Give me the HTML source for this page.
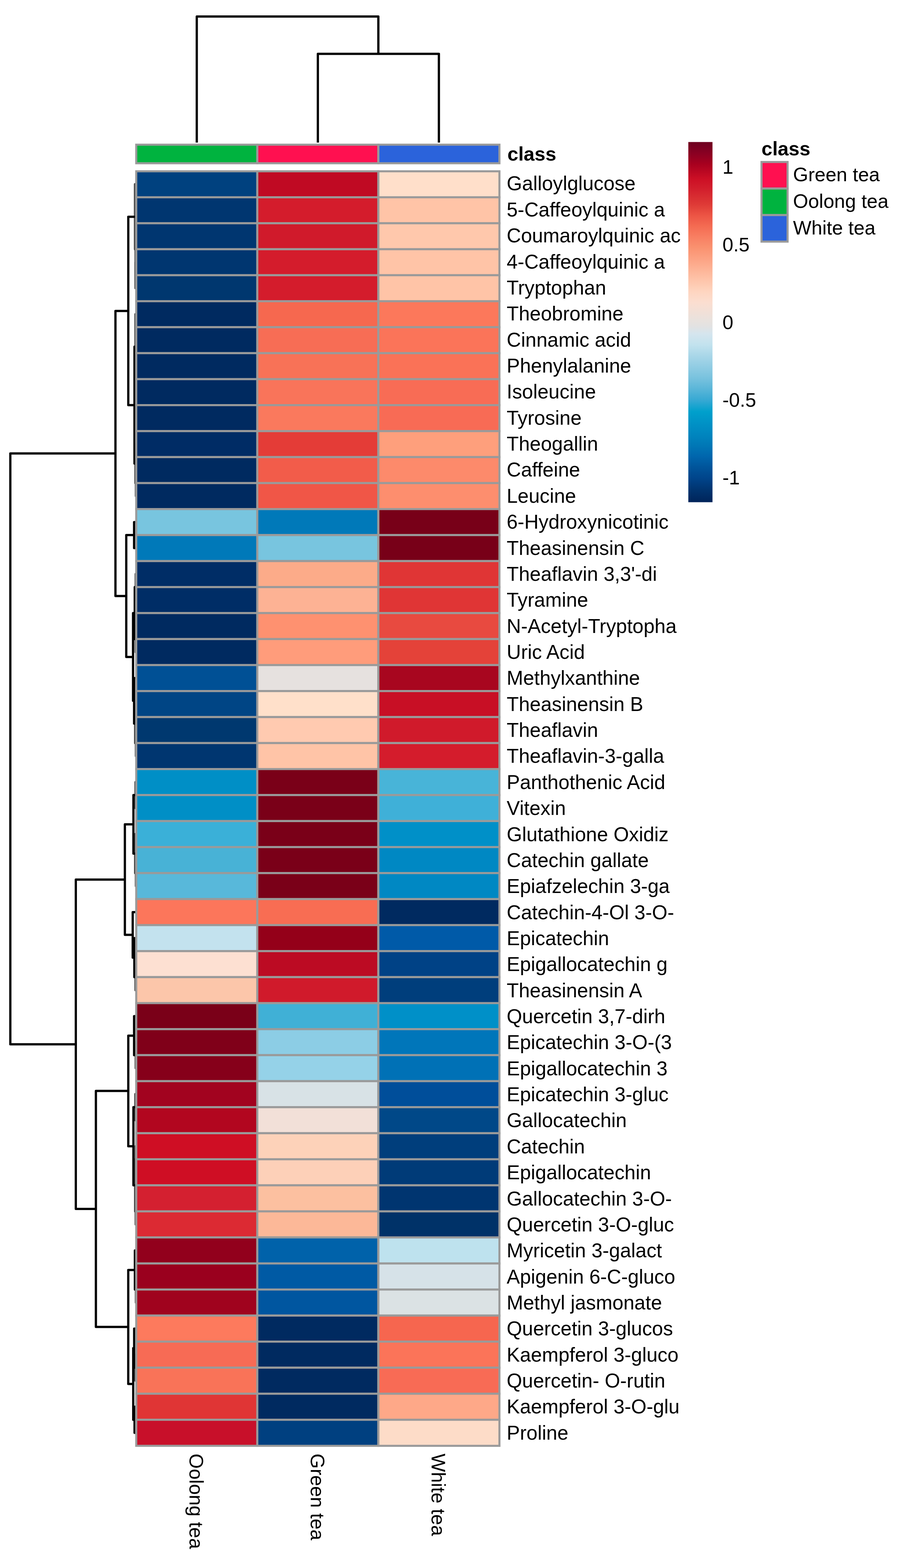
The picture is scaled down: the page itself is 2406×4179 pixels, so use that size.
<!DOCTYPE html><html><head><meta charset="utf-8"><title>Heatmap</title><style>html,body{margin:0;padding:0;background:#fff;}svg{display:block}text{font-family:"Liberation Sans",Arial,sans-serif;fill:#000}</style></head><body>
<svg width="2406" height="4179" viewBox="0 0 2406 4179">
<rect x="0" y="0" width="2406" height="4179" fill="#fff"/>
<path d="M524.3,380.0 V44.0 H1008.1 V143.5 M846.9,380.0 V143.5 H1169.4 V380.0" fill="none" stroke="#000" stroke-width="6" stroke-linejoin="round" stroke-linecap="butt"/>
<defs><clipPath id="rdc"><rect x="0" y="400" width="360.6" height="3500"/></clipPath></defs>
<g clip-path="url(#rdc)">
<path d="M363.0,491.1 H359.6 V664.2 H361.2 M362.5,595.0 H361.2 V733.5 H361.0 M363.0,560.4 H362.5 V629.6 H363.0 M363.0,698.9 H361.0 V768.1 H363.0 M363.0,837.4 H360.8 V1010.5 H362.0 M362.5,941.2 H362.0 V1079.8 H362.5 M363.0,906.6 H362.5 V975.9 H363.0 M363.0,1045.1 H362.5 V1114.4 H363.0 M363.0,1183.6 H360.8 V1287.5 H362.0 M363.0,1252.9 H362.0 V1322.1 H363.0 M363.0,1530.0 H361.5 V1599.3 H363.0 M363.0,1668.6 H361.5 V1737.9 H363.0 M363.0,1876.5 H360.0 V1980.4 H362.0 M363.0,1945.8 H362.0 V2015.1 H363.0 M363.0,2084.4 H361.0 V2153.7 H363.0 M363.0,2223.0 H360.0 V2326.9 H362.0 M363.0,2292.3 H362.0 V2361.6 H363.0 M363.0,2569.6 H361.0 V2638.9 H363.0 M363.0,2777.5 H361.5 V2846.8 H363.0 M363.0,2916.1 H360.5 V2985.5 H363.0 M361.5,3089.7 H360.0 V3228.5 H361.5 M363.0,3054.9 H361.5 V3124.4 H363.0 M363.0,3193.8 H361.5 V3263.2 H363.0 M363.0,3402.1 H362.0 V3471.5 H363.0 M363.0,3610.4 H361.0 V3679.8 H363.0" fill="none" stroke="#4a4a4a" stroke-width="6" stroke-linejoin="round" stroke-linecap="butt"/>
<path d="M307.6,1208.6 H27.5 V2783.2 H202.0 M341.8,828.7 H307.6 V1588.5 H336.4 M359.6,577.7 H341.8 V1079.8 H358.3 M360.8,923.9 H358.3 V1235.6 H360.8 M357.3,1426.1 H336.4 V1750.9 H354.5 M363.0,1391.4 H357.3 V1460.7 H363.0 M359.0,1634.0 H354.5 V1867.8 H357.3 M361.5,1564.7 H359.0 V1703.2 H361.5 M363.0,1807.2 H357.3 V1928.4 H360.0 M332.7,2344.3 H202.0 V3222.1 H255.5 M355.5,2197.0 H332.7 V2491.6 H353.6 M361.0,2119.0 H355.5 V2275.0 H360.0 M363.0,2430.9 H353.6 V2552.2 H358.0 M363.0,2500.2 H358.0 V2604.2 H361.0 M341.8,2907.6 H255.5 V3536.6 H341.7 M357.3,2760.2 H341.8 V3055.0 H355.5 M363.0,2708.2 H357.3 V2812.2 H361.5 M360.5,2950.8 H355.5 V3159.1 H360.0 M359.4,3384.7 H341.7 V3688.5 H355.0 M363.0,3332.7 H359.4 V3436.8 H362.0 M357.5,3593.0 H355.0 V3784.0 H358.5 M363.0,3541.0 H357.5 V3645.1 H361.0 M363.0,3749.3 H358.5 V3818.7 H363.0" fill="none" stroke="#000" stroke-width="6" stroke-linejoin="round" stroke-linecap="butt"/>
</g>
<rect x="363.00" y="385.6" width="322.57" height="49.50" fill="#00b33f" stroke="#9a9a9a" stroke-width="5.5"/>
<rect x="685.57" y="385.6" width="322.57" height="49.50" fill="#ff1050" stroke="#9a9a9a" stroke-width="5.5"/>
<rect x="1008.13" y="385.6" width="322.57" height="49.50" fill="#2b63db" stroke="#9a9a9a" stroke-width="5.5"/>
<text x="1352" y="428" font-size="52" font-weight="bold">class</text>
<rect x="363.00" y="456.50" width="322.57" height="69.25" fill="#00417f" stroke="#9a9a9a" stroke-width="5.5"/>
<rect x="685.57" y="456.50" width="322.57" height="69.25" fill="#c00a23" stroke="#9a9a9a" stroke-width="5.5"/>
<rect x="1008.13" y="456.50" width="322.57" height="69.25" fill="#ffdfca" stroke="#9a9a9a" stroke-width="5.5"/>
<rect x="363.00" y="525.75" width="322.57" height="69.25" fill="#003670" stroke="#9a9a9a" stroke-width="5.5"/>
<rect x="685.57" y="525.75" width="322.57" height="69.25" fill="#d41c2c" stroke="#9a9a9a" stroke-width="5.5"/>
<rect x="1008.13" y="525.75" width="322.57" height="69.25" fill="#ffc4a7" stroke="#9a9a9a" stroke-width="5.5"/>
<rect x="363.00" y="595.00" width="322.57" height="69.25" fill="#003670" stroke="#9a9a9a" stroke-width="5.5"/>
<rect x="685.57" y="595.00" width="322.57" height="69.25" fill="#d01a2b" stroke="#9a9a9a" stroke-width="5.5"/>
<rect x="1008.13" y="595.00" width="322.57" height="69.25" fill="#ffc8ac" stroke="#9a9a9a" stroke-width="5.5"/>
<rect x="363.00" y="664.25" width="322.57" height="69.25" fill="#003670" stroke="#9a9a9a" stroke-width="5.5"/>
<rect x="685.57" y="664.25" width="322.57" height="69.25" fill="#d41c2c" stroke="#9a9a9a" stroke-width="5.5"/>
<rect x="1008.13" y="664.25" width="322.57" height="69.25" fill="#ffc4a7" stroke="#9a9a9a" stroke-width="5.5"/>
<rect x="363.00" y="733.50" width="322.57" height="69.25" fill="#00376f" stroke="#9a9a9a" stroke-width="5.5"/>
<rect x="685.57" y="733.50" width="322.57" height="69.25" fill="#d41c2c" stroke="#9a9a9a" stroke-width="5.5"/>
<rect x="1008.13" y="733.50" width="322.57" height="69.25" fill="#ffc4a7" stroke="#9a9a9a" stroke-width="5.5"/>
<rect x="363.00" y="802.75" width="322.57" height="69.25" fill="#002a60" stroke="#9a9a9a" stroke-width="5.5"/>
<rect x="685.57" y="802.75" width="322.57" height="69.25" fill="#f6684f" stroke="#9a9a9a" stroke-width="5.5"/>
<rect x="1008.13" y="802.75" width="322.57" height="69.25" fill="#fc785b" stroke="#9a9a9a" stroke-width="5.5"/>
<rect x="363.00" y="872.00" width="322.57" height="69.25" fill="#002a60" stroke="#9a9a9a" stroke-width="5.5"/>
<rect x="685.57" y="872.00" width="322.57" height="69.25" fill="#f76d55" stroke="#9a9a9a" stroke-width="5.5"/>
<rect x="1008.13" y="872.00" width="322.57" height="69.25" fill="#fb7459" stroke="#9a9a9a" stroke-width="5.5"/>
<rect x="363.00" y="941.25" width="322.57" height="69.25" fill="#002a60" stroke="#9a9a9a" stroke-width="5.5"/>
<rect x="685.57" y="941.25" width="322.57" height="69.25" fill="#f87257" stroke="#9a9a9a" stroke-width="5.5"/>
<rect x="1008.13" y="941.25" width="322.57" height="69.25" fill="#fa7257" stroke="#9a9a9a" stroke-width="5.5"/>
<rect x="363.00" y="1010.50" width="322.57" height="69.25" fill="#002a60" stroke="#9a9a9a" stroke-width="5.5"/>
<rect x="685.57" y="1010.50" width="322.57" height="69.25" fill="#f9745a" stroke="#9a9a9a" stroke-width="5.5"/>
<rect x="1008.13" y="1010.50" width="322.57" height="69.25" fill="#f86c55" stroke="#9a9a9a" stroke-width="5.5"/>
<rect x="363.00" y="1079.75" width="322.57" height="69.25" fill="#002a60" stroke="#9a9a9a" stroke-width="5.5"/>
<rect x="685.57" y="1079.75" width="322.57" height="69.25" fill="#fa795d" stroke="#9a9a9a" stroke-width="5.5"/>
<rect x="1008.13" y="1079.75" width="322.57" height="69.25" fill="#f86b55" stroke="#9a9a9a" stroke-width="5.5"/>
<rect x="363.00" y="1149.00" width="322.57" height="69.25" fill="#002c65" stroke="#9a9a9a" stroke-width="5.5"/>
<rect x="685.57" y="1149.00" width="322.57" height="69.25" fill="#e43c37" stroke="#9a9a9a" stroke-width="5.5"/>
<rect x="1008.13" y="1149.00" width="322.57" height="69.25" fill="#fe9f7c" stroke="#9a9a9a" stroke-width="5.5"/>
<rect x="363.00" y="1218.25" width="322.57" height="69.25" fill="#002a60" stroke="#9a9a9a" stroke-width="5.5"/>
<rect x="685.57" y="1218.25" width="322.57" height="69.25" fill="#f25c4a" stroke="#9a9a9a" stroke-width="5.5"/>
<rect x="1008.13" y="1218.25" width="322.57" height="69.25" fill="#fd8a6b" stroke="#9a9a9a" stroke-width="5.5"/>
<rect x="363.00" y="1287.50" width="322.57" height="69.29" fill="#002a60" stroke="#9a9a9a" stroke-width="5.5"/>
<rect x="685.57" y="1287.50" width="322.57" height="69.29" fill="#f05647" stroke="#9a9a9a" stroke-width="5.5"/>
<rect x="1008.13" y="1287.50" width="322.57" height="69.29" fill="#fd8e6e" stroke="#9a9a9a" stroke-width="5.5"/>
<rect x="363.00" y="1356.79" width="322.57" height="69.29" fill="#78c5df" stroke="#9a9a9a" stroke-width="5.5"/>
<rect x="685.57" y="1356.79" width="322.57" height="69.29" fill="#0079b9" stroke="#9a9a9a" stroke-width="5.5"/>
<rect x="1008.13" y="1356.79" width="322.57" height="69.29" fill="#780018" stroke="#9a9a9a" stroke-width="5.5"/>
<rect x="363.00" y="1426.08" width="322.57" height="69.29" fill="#0079b9" stroke="#9a9a9a" stroke-width="5.5"/>
<rect x="685.57" y="1426.08" width="322.57" height="69.29" fill="#78c5df" stroke="#9a9a9a" stroke-width="5.5"/>
<rect x="1008.13" y="1426.08" width="322.57" height="69.29" fill="#780018" stroke="#9a9a9a" stroke-width="5.5"/>
<rect x="363.00" y="1495.38" width="322.57" height="69.29" fill="#002d66" stroke="#9a9a9a" stroke-width="5.5"/>
<rect x="685.57" y="1495.38" width="322.57" height="69.29" fill="#fcab89" stroke="#9a9a9a" stroke-width="5.5"/>
<rect x="1008.13" y="1495.38" width="322.57" height="69.29" fill="#e03535" stroke="#9a9a9a" stroke-width="5.5"/>
<rect x="363.00" y="1564.67" width="322.57" height="69.29" fill="#002d66" stroke="#9a9a9a" stroke-width="5.5"/>
<rect x="685.57" y="1564.67" width="322.57" height="69.29" fill="#fdb294" stroke="#9a9a9a" stroke-width="5.5"/>
<rect x="1008.13" y="1564.67" width="322.57" height="69.29" fill="#e03535" stroke="#9a9a9a" stroke-width="5.5"/>
<rect x="363.00" y="1633.96" width="322.57" height="69.29" fill="#002a60" stroke="#9a9a9a" stroke-width="5.5"/>
<rect x="685.57" y="1633.96" width="322.57" height="69.29" fill="#fe9170" stroke="#9a9a9a" stroke-width="5.5"/>
<rect x="1008.13" y="1633.96" width="322.57" height="69.29" fill="#e84a40" stroke="#9a9a9a" stroke-width="5.5"/>
<rect x="363.00" y="1703.25" width="322.57" height="69.29" fill="#002a60" stroke="#9a9a9a" stroke-width="5.5"/>
<rect x="685.57" y="1703.25" width="322.57" height="69.29" fill="#ff9c7b" stroke="#9a9a9a" stroke-width="5.5"/>
<rect x="1008.13" y="1703.25" width="322.57" height="69.29" fill="#e44239" stroke="#9a9a9a" stroke-width="5.5"/>
<rect x="363.00" y="1772.54" width="322.57" height="69.29" fill="#005095" stroke="#9a9a9a" stroke-width="5.5"/>
<rect x="685.57" y="1772.54" width="322.57" height="69.29" fill="#e6e1df" stroke="#9a9a9a" stroke-width="5.5"/>
<rect x="1008.13" y="1772.54" width="322.57" height="69.29" fill="#a8061f" stroke="#9a9a9a" stroke-width="5.5"/>
<rect x="363.00" y="1841.83" width="322.57" height="69.29" fill="#004585" stroke="#9a9a9a" stroke-width="5.5"/>
<rect x="685.57" y="1841.83" width="322.57" height="69.29" fill="#ffe0ca" stroke="#9a9a9a" stroke-width="5.5"/>
<rect x="1008.13" y="1841.83" width="322.57" height="69.29" fill="#c80f25" stroke="#9a9a9a" stroke-width="5.5"/>
<rect x="363.00" y="1911.12" width="322.57" height="69.29" fill="#00386f" stroke="#9a9a9a" stroke-width="5.5"/>
<rect x="685.57" y="1911.12" width="322.57" height="69.29" fill="#ffcab0" stroke="#9a9a9a" stroke-width="5.5"/>
<rect x="1008.13" y="1911.12" width="322.57" height="69.29" fill="#d01a2b" stroke="#9a9a9a" stroke-width="5.5"/>
<rect x="363.00" y="1980.42" width="322.57" height="69.29" fill="#003670" stroke="#9a9a9a" stroke-width="5.5"/>
<rect x="685.57" y="1980.42" width="322.57" height="69.29" fill="#ffc4a7" stroke="#9a9a9a" stroke-width="5.5"/>
<rect x="1008.13" y="1980.42" width="322.57" height="69.29" fill="#d41c2c" stroke="#9a9a9a" stroke-width="5.5"/>
<rect x="363.00" y="2049.71" width="322.57" height="69.29" fill="#008fc6" stroke="#9a9a9a" stroke-width="5.5"/>
<rect x="685.57" y="2049.71" width="322.57" height="69.29" fill="#7a0018" stroke="#9a9a9a" stroke-width="5.5"/>
<rect x="1008.13" y="2049.71" width="322.57" height="69.29" fill="#48b4d8" stroke="#9a9a9a" stroke-width="5.5"/>
<rect x="363.00" y="2119.00" width="322.57" height="69.32" fill="#008fc6" stroke="#9a9a9a" stroke-width="5.5"/>
<rect x="685.57" y="2119.00" width="322.57" height="69.32" fill="#7a0018" stroke="#9a9a9a" stroke-width="5.5"/>
<rect x="1008.13" y="2119.00" width="322.57" height="69.32" fill="#3fb0d8" stroke="#9a9a9a" stroke-width="5.5"/>
<rect x="363.00" y="2188.32" width="322.57" height="69.32" fill="#3ab0d8" stroke="#9a9a9a" stroke-width="5.5"/>
<rect x="685.57" y="2188.32" width="322.57" height="69.32" fill="#7a0018" stroke="#9a9a9a" stroke-width="5.5"/>
<rect x="1008.13" y="2188.32" width="322.57" height="69.32" fill="#0090c8" stroke="#9a9a9a" stroke-width="5.5"/>
<rect x="363.00" y="2257.63" width="322.57" height="69.32" fill="#48b2d6" stroke="#9a9a9a" stroke-width="5.5"/>
<rect x="685.57" y="2257.63" width="322.57" height="69.32" fill="#7a0018" stroke="#9a9a9a" stroke-width="5.5"/>
<rect x="1008.13" y="2257.63" width="322.57" height="69.32" fill="#0088c3" stroke="#9a9a9a" stroke-width="5.5"/>
<rect x="363.00" y="2326.95" width="322.57" height="69.32" fill="#58b8da" stroke="#9a9a9a" stroke-width="5.5"/>
<rect x="685.57" y="2326.95" width="322.57" height="69.32" fill="#7a0018" stroke="#9a9a9a" stroke-width="5.5"/>
<rect x="1008.13" y="2326.95" width="322.57" height="69.32" fill="#0088c3" stroke="#9a9a9a" stroke-width="5.5"/>
<rect x="363.00" y="2396.27" width="322.57" height="69.32" fill="#fc765b" stroke="#9a9a9a" stroke-width="5.5"/>
<rect x="685.57" y="2396.27" width="322.57" height="69.32" fill="#f86d53" stroke="#9a9a9a" stroke-width="5.5"/>
<rect x="1008.13" y="2396.27" width="322.57" height="69.32" fill="#002a60" stroke="#9a9a9a" stroke-width="5.5"/>
<rect x="363.00" y="2465.58" width="322.57" height="69.32" fill="#c3e2ee" stroke="#9a9a9a" stroke-width="5.5"/>
<rect x="685.57" y="2465.58" width="322.57" height="69.32" fill="#940019" stroke="#9a9a9a" stroke-width="5.5"/>
<rect x="1008.13" y="2465.58" width="322.57" height="69.32" fill="#005aa8" stroke="#9a9a9a" stroke-width="5.5"/>
<rect x="363.00" y="2534.90" width="322.57" height="69.32" fill="#fde0d2" stroke="#9a9a9a" stroke-width="5.5"/>
<rect x="685.57" y="2534.90" width="322.57" height="69.32" fill="#bc0b23" stroke="#9a9a9a" stroke-width="5.5"/>
<rect x="1008.13" y="2534.90" width="322.57" height="69.32" fill="#004286" stroke="#9a9a9a" stroke-width="5.5"/>
<rect x="363.00" y="2604.22" width="322.57" height="69.32" fill="#fcc6aa" stroke="#9a9a9a" stroke-width="5.5"/>
<rect x="685.57" y="2604.22" width="322.57" height="69.32" fill="#d01a2b" stroke="#9a9a9a" stroke-width="5.5"/>
<rect x="1008.13" y="2604.22" width="322.57" height="69.32" fill="#003e7c" stroke="#9a9a9a" stroke-width="5.5"/>
<rect x="363.00" y="2673.53" width="322.57" height="69.32" fill="#7a0018" stroke="#9a9a9a" stroke-width="5.5"/>
<rect x="685.57" y="2673.53" width="322.57" height="69.32" fill="#40b0d6" stroke="#9a9a9a" stroke-width="5.5"/>
<rect x="1008.13" y="2673.53" width="322.57" height="69.32" fill="#0090c8" stroke="#9a9a9a" stroke-width="5.5"/>
<rect x="363.00" y="2742.85" width="322.57" height="69.32" fill="#800019" stroke="#9a9a9a" stroke-width="5.5"/>
<rect x="685.57" y="2742.85" width="322.57" height="69.32" fill="#8ccde5" stroke="#9a9a9a" stroke-width="5.5"/>
<rect x="1008.13" y="2742.85" width="322.57" height="69.32" fill="#0076ba" stroke="#9a9a9a" stroke-width="5.5"/>
<rect x="363.00" y="2812.17" width="322.57" height="69.32" fill="#86001a" stroke="#9a9a9a" stroke-width="5.5"/>
<rect x="685.57" y="2812.17" width="322.57" height="69.32" fill="#95d2e8" stroke="#9a9a9a" stroke-width="5.5"/>
<rect x="1008.13" y="2812.17" width="322.57" height="69.32" fill="#0071b6" stroke="#9a9a9a" stroke-width="5.5"/>
<rect x="363.00" y="2881.48" width="322.57" height="69.32" fill="#a2031f" stroke="#9a9a9a" stroke-width="5.5"/>
<rect x="685.57" y="2881.48" width="322.57" height="69.32" fill="#d8e2e6" stroke="#9a9a9a" stroke-width="5.5"/>
<rect x="1008.13" y="2881.48" width="322.57" height="69.32" fill="#004e9a" stroke="#9a9a9a" stroke-width="5.5"/>
<rect x="363.00" y="2950.80" width="322.57" height="69.43" fill="#b2061f" stroke="#9a9a9a" stroke-width="5.5"/>
<rect x="685.57" y="2950.80" width="322.57" height="69.43" fill="#f2e0d8" stroke="#9a9a9a" stroke-width="5.5"/>
<rect x="1008.13" y="2950.80" width="322.57" height="69.43" fill="#004888" stroke="#9a9a9a" stroke-width="5.5"/>
<rect x="363.00" y="3020.23" width="322.57" height="69.43" fill="#cf0e24" stroke="#9a9a9a" stroke-width="5.5"/>
<rect x="685.57" y="3020.23" width="322.57" height="69.43" fill="#fdd2b9" stroke="#9a9a9a" stroke-width="5.5"/>
<rect x="1008.13" y="3020.23" width="322.57" height="69.43" fill="#003e7c" stroke="#9a9a9a" stroke-width="5.5"/>
<rect x="363.00" y="3089.66" width="322.57" height="69.43" fill="#cf0e24" stroke="#9a9a9a" stroke-width="5.5"/>
<rect x="685.57" y="3089.66" width="322.57" height="69.43" fill="#fdd0b8" stroke="#9a9a9a" stroke-width="5.5"/>
<rect x="1008.13" y="3089.66" width="322.57" height="69.43" fill="#003b78" stroke="#9a9a9a" stroke-width="5.5"/>
<rect x="363.00" y="3159.09" width="322.57" height="69.43" fill="#d42030" stroke="#9a9a9a" stroke-width="5.5"/>
<rect x="685.57" y="3159.09" width="322.57" height="69.43" fill="#fcc0a0" stroke="#9a9a9a" stroke-width="5.5"/>
<rect x="1008.13" y="3159.09" width="322.57" height="69.43" fill="#003570" stroke="#9a9a9a" stroke-width="5.5"/>
<rect x="363.00" y="3228.52" width="322.57" height="69.43" fill="#dc2a33" stroke="#9a9a9a" stroke-width="5.5"/>
<rect x="685.57" y="3228.52" width="322.57" height="69.43" fill="#fcb898" stroke="#9a9a9a" stroke-width="5.5"/>
<rect x="1008.13" y="3228.52" width="322.57" height="69.43" fill="#003268" stroke="#9a9a9a" stroke-width="5.5"/>
<rect x="363.00" y="3297.95" width="322.57" height="69.43" fill="#92001c" stroke="#9a9a9a" stroke-width="5.5"/>
<rect x="685.57" y="3297.95" width="322.57" height="69.43" fill="#0062aa" stroke="#9a9a9a" stroke-width="5.5"/>
<rect x="1008.13" y="3297.95" width="322.57" height="69.43" fill="#bee2ee" stroke="#9a9a9a" stroke-width="5.5"/>
<rect x="363.00" y="3367.38" width="322.57" height="69.43" fill="#9a001e" stroke="#9a9a9a" stroke-width="5.5"/>
<rect x="685.57" y="3367.38" width="322.57" height="69.43" fill="#005aa4" stroke="#9a9a9a" stroke-width="5.5"/>
<rect x="1008.13" y="3367.38" width="322.57" height="69.43" fill="#d6e2e8" stroke="#9a9a9a" stroke-width="5.5"/>
<rect x="363.00" y="3436.82" width="322.57" height="69.43" fill="#a0031e" stroke="#9a9a9a" stroke-width="5.5"/>
<rect x="685.57" y="3436.82" width="322.57" height="69.43" fill="#0056a0" stroke="#9a9a9a" stroke-width="5.5"/>
<rect x="1008.13" y="3436.82" width="322.57" height="69.43" fill="#dbe2e4" stroke="#9a9a9a" stroke-width="5.5"/>
<rect x="363.00" y="3506.25" width="322.57" height="69.43" fill="#fd7a5d" stroke="#9a9a9a" stroke-width="5.5"/>
<rect x="685.57" y="3506.25" width="322.57" height="69.43" fill="#002a60" stroke="#9a9a9a" stroke-width="5.5"/>
<rect x="1008.13" y="3506.25" width="322.57" height="69.43" fill="#f6664f" stroke="#9a9a9a" stroke-width="5.5"/>
<rect x="363.00" y="3575.68" width="322.57" height="69.43" fill="#f76b55" stroke="#9a9a9a" stroke-width="5.5"/>
<rect x="685.57" y="3575.68" width="322.57" height="69.43" fill="#002a60" stroke="#9a9a9a" stroke-width="5.5"/>
<rect x="1008.13" y="3575.68" width="322.57" height="69.43" fill="#fb7459" stroke="#9a9a9a" stroke-width="5.5"/>
<rect x="363.00" y="3645.11" width="322.57" height="69.43" fill="#f97358" stroke="#9a9a9a" stroke-width="5.5"/>
<rect x="685.57" y="3645.11" width="322.57" height="69.43" fill="#002a60" stroke="#9a9a9a" stroke-width="5.5"/>
<rect x="1008.13" y="3645.11" width="322.57" height="69.43" fill="#f86b55" stroke="#9a9a9a" stroke-width="5.5"/>
<rect x="363.00" y="3714.54" width="322.57" height="69.43" fill="#e03535" stroke="#9a9a9a" stroke-width="5.5"/>
<rect x="685.57" y="3714.54" width="322.57" height="69.43" fill="#002a60" stroke="#9a9a9a" stroke-width="5.5"/>
<rect x="1008.13" y="3714.54" width="322.57" height="69.43" fill="#fea888" stroke="#9a9a9a" stroke-width="5.5"/>
<rect x="363.00" y="3783.97" width="322.57" height="69.43" fill="#c8102a" stroke="#9a9a9a" stroke-width="5.5"/>
<rect x="685.57" y="3783.97" width="322.57" height="69.43" fill="#004080" stroke="#9a9a9a" stroke-width="5.5"/>
<rect x="1008.13" y="3783.97" width="322.57" height="69.43" fill="#fddcc8" stroke="#9a9a9a" stroke-width="5.5"/>
<text x="1350" y="507.4" font-size="52.8">Galloylglucose</text>
<text x="1350" y="576.8" font-size="52.8">5-Caffeoylquinic a</text>
<text x="1350" y="646.1" font-size="52.8">Coumaroylquinic ac</text>
<text x="1350" y="715.5" font-size="52.8">4-Caffeoylquinic a</text>
<text x="1350" y="784.8" font-size="52.8">Tryptophan</text>
<text x="1350" y="854.2" font-size="52.8">Theobromine</text>
<text x="1350" y="923.6" font-size="52.8">Cinnamic acid</text>
<text x="1350" y="992.9" font-size="52.8">Phenylalanine</text>
<text x="1350" y="1062.3" font-size="52.8">Isoleucine</text>
<text x="1350" y="1131.7" font-size="52.8">Tyrosine</text>
<text x="1350" y="1201.0" font-size="52.8">Theogallin</text>
<text x="1350" y="1270.4" font-size="52.8">Caffeine</text>
<text x="1350" y="1339.8" font-size="52.8">Leucine</text>
<text x="1350" y="1409.1" font-size="52.8">6-Hydroxynicotinic</text>
<text x="1350" y="1478.5" font-size="52.8">Theasinensin C</text>
<text x="1350" y="1547.8" font-size="52.8">Theaflavin 3,3'-di</text>
<text x="1350" y="1617.2" font-size="52.8">Tyramine</text>
<text x="1350" y="1686.6" font-size="52.8">N-Acetyl-Tryptopha</text>
<text x="1350" y="1755.9" font-size="52.8">Uric Acid</text>
<text x="1350" y="1825.3" font-size="52.8">Methylxanthine</text>
<text x="1350" y="1894.7" font-size="52.8">Theasinensin B</text>
<text x="1350" y="1964.0" font-size="52.8">Theaflavin</text>
<text x="1350" y="2033.4" font-size="52.8">Theaflavin-3-galla</text>
<text x="1350" y="2102.7" font-size="52.8">Panthothenic Acid</text>
<text x="1350" y="2172.1" font-size="52.8">Vitexin</text>
<text x="1350" y="2241.5" font-size="52.8">Glutathione Oxidiz</text>
<text x="1350" y="2310.8" font-size="52.8">Catechin gallate</text>
<text x="1350" y="2380.2" font-size="52.8">Epiafzelechin 3-ga</text>
<text x="1350" y="2449.5" font-size="52.8">Catechin-4-Ol 3-O-</text>
<text x="1350" y="2518.9" font-size="52.8">Epicatechin</text>
<text x="1350" y="2588.3" font-size="52.8">Epigallocatechin g</text>
<text x="1350" y="2657.6" font-size="52.8">Theasinensin A</text>
<text x="1350" y="2727.0" font-size="52.8">Quercetin 3,7-dirh</text>
<text x="1350" y="2796.4" font-size="52.8">Epicatechin 3-O-(3</text>
<text x="1350" y="2865.7" font-size="52.8">Epigallocatechin 3</text>
<text x="1350" y="2935.1" font-size="52.8">Epicatechin 3-gluc</text>
<text x="1350" y="3004.4" font-size="52.8">Gallocatechin</text>
<text x="1350" y="3073.8" font-size="52.8">Catechin</text>
<text x="1350" y="3143.2" font-size="52.8">Epigallocatechin</text>
<text x="1350" y="3212.5" font-size="52.8">Gallocatechin 3-O-</text>
<text x="1350" y="3281.9" font-size="52.8">Quercetin 3-O-gluc</text>
<text x="1350" y="3351.3" font-size="52.8">Myricetin 3-galact</text>
<text x="1350" y="3420.6" font-size="52.8">Apigenin 6-C-gluco</text>
<text x="1350" y="3490.0" font-size="52.8">Methyl jasmonate</text>
<text x="1350" y="3559.3" font-size="52.8">Quercetin 3-glucos</text>
<text x="1350" y="3628.7" font-size="52.8">Kaempferol 3-gluco</text>
<text x="1350" y="3698.1" font-size="52.8">Quercetin- O-rutin</text>
<text x="1350" y="3767.4" font-size="52.8">Kaempferol 3-O-glu</text>
<text x="1350" y="3836.8" font-size="52.8">Proline</text>
<text transform="translate(505.3,3874) rotate(90)" x="0" y="0" font-size="52">Oolong tea</text>
<text transform="translate(827.9,3874) rotate(90)" x="0" y="0" font-size="52">Green tea</text>
<text transform="translate(1150.4,3874) rotate(90)" x="0" y="0" font-size="52">White tea</text>
<defs><linearGradient id="lg" x1="0" y1="0" x2="0" y2="1">
<stop offset="0.0006" stop-color="#6e0020"/>
<stop offset="0.0317" stop-color="#8a0022"/>
<stop offset="0.0618" stop-color="#a8001f"/>
<stop offset="0.1024" stop-color="#cc0f25"/>
<stop offset="0.1326" stop-color="#d3202d"/>
<stop offset="0.1727" stop-color="#de3a36"/>
<stop offset="0.2033" stop-color="#ec5444"/>
<stop offset="0.2335" stop-color="#f46b52"/>
<stop offset="0.2637" stop-color="#f87f62"/>
<stop offset="0.2939" stop-color="#fa9270"/>
<stop offset="0.3240" stop-color="#fca283"/>
<stop offset="0.3547" stop-color="#fdb497"/>
<stop offset="0.3849" stop-color="#fec5ab"/>
<stop offset="0.4150" stop-color="#fed5c0"/>
<stop offset="0.4452" stop-color="#fbded0"/>
<stop offset="0.4754" stop-color="#f0e0d8"/>
<stop offset="0.4957" stop-color="#e8e2de"/>
<stop offset="0.5121" stop-color="#e2e2e2"/>
<stop offset="0.5323" stop-color="#d5e5ee"/>
<stop offset="0.5630" stop-color="#c2e2ee"/>
<stop offset="0.5944" stop-color="#a8d6e8"/>
<stop offset="0.6251" stop-color="#90cce3"/>
<stop offset="0.6557" stop-color="#78c2de"/>
<stop offset="0.6872" stop-color="#58b5d8"/>
<stop offset="0.7178" stop-color="#35a8d3"/>
<stop offset="0.7484" stop-color="#00a0cc"/>
<stop offset="0.7799" stop-color="#0092c6"/>
<stop offset="0.8105" stop-color="#0086bf"/>
<stop offset="0.8411" stop-color="#0078b6"/>
<stop offset="0.8722" stop-color="#0066ad"/>
<stop offset="0.9032" stop-color="#00549a"/>
<stop offset="0.9338" stop-color="#00448a"/>
<stop offset="0.9649" stop-color="#003470"/>
<stop offset="0.9955" stop-color="#00265c"/>
</linearGradient></defs>
<rect x="1834" y="378.5" width="64.4" height="960.0" fill="url(#lg)"/>
<text x="1925" y="463.0" font-size="52">1</text>
<text x="1925" y="670.0" font-size="52">0.5</text>
<text x="1925" y="877.0" font-size="52">0</text>
<text x="1925" y="1084.0" font-size="52">-0.5</text>
<text x="1925" y="1291.0" font-size="52">-1</text>
<text x="2029" y="414" font-size="52" font-weight="bold">class</text>
<rect x="2029" y="431.70" width="69.5" height="70.75" fill="#ff1050" stroke="#9a9a9a" stroke-width="5.5"/>
<text x="2113" y="483.1" font-size="52">Green tea</text>
<rect x="2029" y="502.45" width="69.5" height="70.75" fill="#00b33f" stroke="#9a9a9a" stroke-width="5.5"/>
<text x="2113" y="553.8" font-size="52">Oolong tea</text>
<rect x="2029" y="573.20" width="69.5" height="70.75" fill="#2b63db" stroke="#9a9a9a" stroke-width="5.5"/>
<text x="2113" y="624.6" font-size="52">White tea</text>
</svg></body></html>
